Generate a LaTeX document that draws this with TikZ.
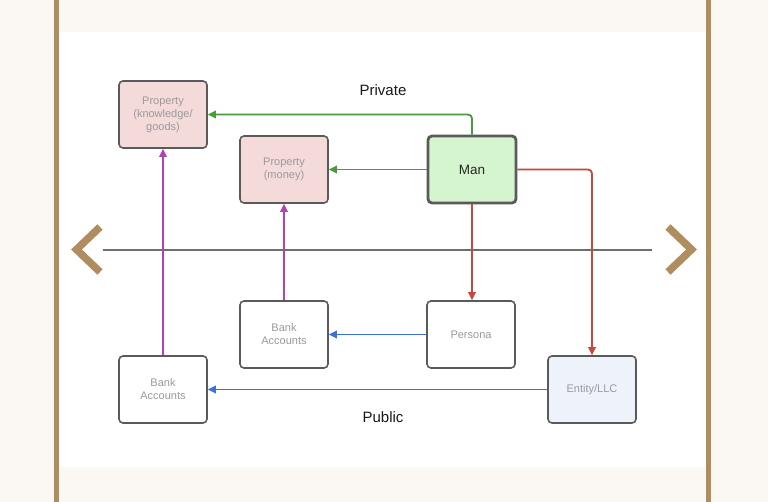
\documentclass[tikz,border=0pt]{standalone}
\usepackage{fontspec}
\setmainfont{Liberation Sans}
\usetikzlibrary{arrows.meta}
\definecolor{cream}{HTML}{FBF8F3}
\definecolor{brownc}{HTML}{B08D5E}
\definecolor{pinkf}{HTML}{F5DADA}
\definecolor{greenf}{HTML}{D5F5CE}
\definecolor{bluef}{HTML}{EEF3FB}
\definecolor{edgec}{HTML}{5A5A5A}
\definecolor{garrow}{HTML}{4B9A3C}
\definecolor{rarrow}{HTML}{C9463B}
\definecolor{barrow}{HTML}{3E6FD5}
\definecolor{marrow}{HTML}{B042B4}
\definecolor{blurtxt}{HTML}{9A9A9A}
\definecolor{divc}{HTML}{6E6E6E}
\tikzset{
  box/.style={draw=edgec, line width=1.6pt, rounded corners=4pt, minimum width=88pt, minimum height=67pt, inner sep=2pt, align=center, font=\fontsize{11}{13}\selectfont, text=blurtxt},
  conn/.style={line width=1.8pt, -{Triangle[length=8pt,width=7.5pt]}, rounded corners=4pt},
}
\begin{document}
\begin{tikzpicture}[x=1pt,y=-1pt]
\useasboundingbox (0,0) rectangle (768,502);
\fill[cream] (0,0) rectangle (768,502);
\fill[white] (59,32) rectangle (706,467);
\fill[brownc] (54,0) rectangle (58.5,502);
\fill[brownc] (706,0) rectangle (710.5,502);
% divider
\draw[divc, line width=1.5pt] (103,250) -- (652,250);
% chevrons
\draw[brownc, line width=7.5pt, miter limit=10] (100,227) -- (76.5,249.5) -- (100,272);
\draw[brownc, line width=7.5pt, miter limit=10] (668,227) -- (691.5,249.5) -- (668,272);
% nodes
\node[box, fill=pinkf] (pkg) at (163,114.5) {Property\\(knowledge/\\goods)};
\node[box, fill=pinkf] (pm) at (284,169.5) {Property\\(money)};
\node[box, fill=greenf, line width=2.8pt, text=black!85, font=\fontsize{13.5}{15}\selectfont] (man) at (472,169.5) {Man};
\node[box, fill=white] (ba1) at (284,334.5) {Bank\\Accounts};
\node[box, fill=white] (per) at (471,334.5) {Persona};
\node[box, fill=white] (ba2) at (163,389.5) {Bank\\Accounts};
\node[box, fill=bluef] (ent) at (592,389.5) {Entity/LLC};
% labels
\node[font=\fontsize{15}{17}\selectfont, text=black!90] (priv) at (383,90) {Private};
\node[font=\fontsize{15}{17}\selectfont, text=black!90] (pub) at (383,417) {Public};
% connectors
\draw[conn, garrow] (man.north) |- (pkg.east);
\draw[conn, garrow] (man.west) -- (pm.east);
\draw[conn, rarrow] (man.south) -- (per.north -| man.south);
\draw[conn, rarrow] (man.east) -| (ent.north);
\draw[conn, barrow] (per.west) -- (ba1.east);
\draw[conn, barrow] (ent.west) -- (ba2.east);
\draw[conn, marrow] (ba1.north) -- (pm.south);
\draw[conn, marrow] (ba2.north) -- (pkg.south);
\end{tikzpicture}
\end{document}
